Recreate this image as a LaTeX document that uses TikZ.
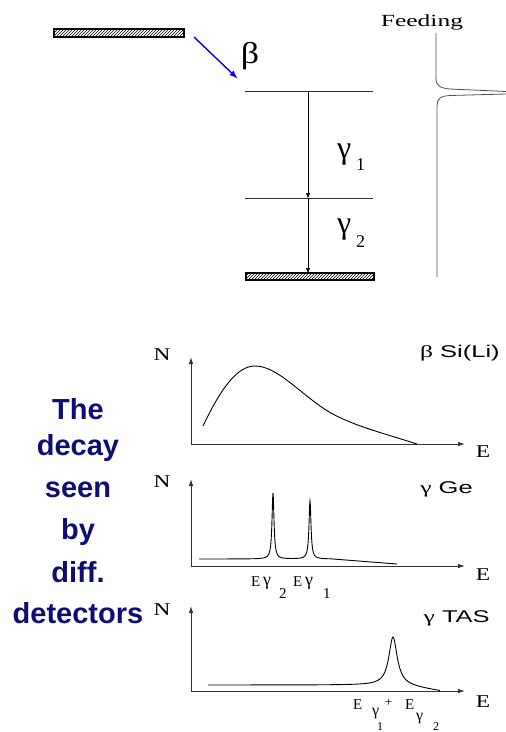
\documentclass[tikz,border=0pt]{standalone}
\usepackage{fontspec}
\setmainfont{Liberation Serif}
\setsansfont{Liberation Sans}
\usetikzlibrary{arrows.meta,patterns}
\definecolor{navy}{RGB}{13,13,115}
\definecolor{axisgray}{RGB}{50,50,50}
\definecolor{feedgray}{RGB}{80,80,80}
\begin{document}
\begin{tikzpicture}[x=1pt,y=-1pt,
  lbl/.style={font=\fontsize{29}{34}\selectfont\sffamily\bfseries, text=navy, anchor=base, inner sep=0pt},
  ax/.style={line width=0.9pt, draw=axisgray, -{Latex[length=7pt,width=4.5pt]}},
  curve/.style={line width=0.9pt, draw=black},
  hatchbar/.style={draw=black, line width=1.3pt, pattern=north east lines},
  level/.style={line width=0.6pt, draw=black!80},
  trans/.style={line width=0.6pt, draw=black, -{Triangle[length=5pt,width=4pt]}},
  axlab/.style={font=\fontsize{18}{18}\selectfont, anchor=base, inner sep=0pt, xscale=1.3},
  det/.style={font=\fontsize{17}{17}\selectfont\sffamily, anchor=base east, inner sep=0pt, xscale=1.5},
  small/.style={inner sep=0pt, anchor=base west}
]
\useasboundingbox (0,0) rectangle (506,732);

% ---- left text
\node[lbl] (w1) at (78,419) {The};
\node[lbl] (w2) at (78,455) {decay};
\node[lbl] (w3) at (78,497) {seen};
\node[lbl] (w4) at (78,539) {by};
\node[lbl] (w5) at (78,582) {diff.};
\node[lbl] (w6) at (78,623) {detectors};

% ---- level scheme
\draw[hatchbar] (54,29) rectangle (184,37);
\coordinate (bs) at (194,37);
\coordinate (be) at (238,79);
\draw[blue, line width=1.4pt, -{Latex[length=9pt,width=6pt]}] (bs) -- (be);
\node[inner sep=0pt, anchor=base, font=\fontsize{30}{30}\selectfont, xscale=1.2] (beta) at (250,63) {β};

\coordinate (l1a) at (245,91);
\coordinate (l1b) at (373,91);
\coordinate (l2a) at (245,198);
\coordinate (l2b) at (373,198);
\draw[level] (l1a) -- (l1b);
\draw[level] (l2a) -- (l2b);
\draw[hatchbar] (246,273) rectangle (374,280);
\coordinate (t1s) at (308,91);
\coordinate (t1e) at (308,198);
\coordinate (t2e) at (308,273);
\draw[trans] (t1s) -- (t1e);
\draw[trans] (t1e) -- (t2e);
\node[small, font=\fontsize{32}{32}\selectfont] (g1) at (337,158) {γ};
\node[small, font=\fontsize{18}{18}\selectfont] (g1s) at (356,170) {1};
\node[small, font=\fontsize{32}{32}\selectfont] (g2) at (337,233) {γ};
\node[small, font=\fontsize{18}{18}\selectfont] (g2s) at (356,247) {2};

% ---- feeding
\node[inner sep=0pt, anchor=base, font=\fontsize{17}{17}\selectfont, xscale=1.5] (feed) at (422,26) {Feeding};
\draw[feedgray, line width=0.8pt] (436,33) -- (436,78) .. controls (436,86) and (440,88) .. (450,89) -- (506,91.5);
\draw[feedgray, line width=0.8pt] (506,94) -- (450,95.5) .. controls (440,96) and (437,99) .. (437,106) -- (437,277);

% ---- graph 1
\coordinate (o1) at (191,444);
\coordinate (y1) at (191,357);
\coordinate (x1) at (465,444);
\draw[ax] (o1) -- (y1);
\draw[ax] (o1) -- (x1);
\node[axlab] (n1) at (162,360) {N};
\node[axlab] (e1) at (483,457) {E};
\node[det] (d1) at (500,357) {{\rmfamily β} Si(Li)};
\draw[curve] (203,426) .. controls (222,386) and (238,366) .. (255,366)
  .. controls (275,366) and (295,388) .. (320,406)
  .. controls (345,424) and (380,432) .. (417,444);

% ---- graph 2
\coordinate (o2) at (191,566);
\coordinate (y2) at (191,479);
\coordinate (x2) at (465,566);
\draw[ax] (o2) -- (y2);
\draw[ax] (o2) -- (x2);
\node[axlab] (n2) at (162,487) {N};
\node[axlab] (e2) at (483,580) {E};
\node[det] (d2) at (473,493) {{\rmfamily γ} Ge};
\draw[curve] plot[domain=199:330, samples=525, variable=\t] ({\t}, {559 - 66*0.0144/(0.0144+((\t-273)/10)^2) - 58*0.0144/(0.0144+((\t-310)/10)^2)}) -- (397,564);
\node[small, font=\fontsize{15}{15}\selectfont] (ea) at (251,586) {E};
\node[small, font=\fontsize{18}{18}\selectfont] (ga) at (263,585) {γ};
\node[small, font=\fontsize{15}{15}\selectfont] (sa) at (279,598) {2};
\node[small, font=\fontsize{15}{15}\selectfont] (eb) at (293,586) {E};
\node[small, font=\fontsize{18}{18}\selectfont] (gb) at (305,585) {γ};
\node[small, font=\fontsize{15}{15}\selectfont] (sb) at (323,598) {1};

% ---- graph 3
\coordinate (o3) at (191,691);
\coordinate (y3) at (191,606);
\coordinate (x3) at (465,691);
\draw[ax] (o3) -- (y3);
\draw[ax] (o3) -- (x3);
\node[axlab] (n3) at (162,615) {N};
\node[axlab] (e3) at (483,707) {E};
\node[det] (d3) at (490,622) {{\rmfamily γ} TAS};
\draw[curve] plot[domain=208:440, samples=465, variable=\t] ({\t}, {685 - 48*0.25/(0.25+((\t-393)/10)^2) + max(0,\t-400)*6/40});
\node[small, font=\fontsize{15}{15}\selectfont] (ec) at (353,709) {E};
\node[small, font=\fontsize{16}{16}\selectfont] (gc) at (372,715) {γ};
\node[small, font=\fontsize{13}{13}\selectfont] (pc) at (385,706) {+};
\node[small, font=\fontsize{12}{12}\selectfont] (sc) at (377,730) {1};
\node[small, font=\fontsize{15}{15}\selectfont] (ed) at (405,709) {E};
\node[small, font=\fontsize{16}{16}\selectfont] (gd) at (416,720) {γ};
\node[small, font=\fontsize{12}{12}\selectfont] (sd) at (433,730) {2};
\end{tikzpicture}
\end{document}
